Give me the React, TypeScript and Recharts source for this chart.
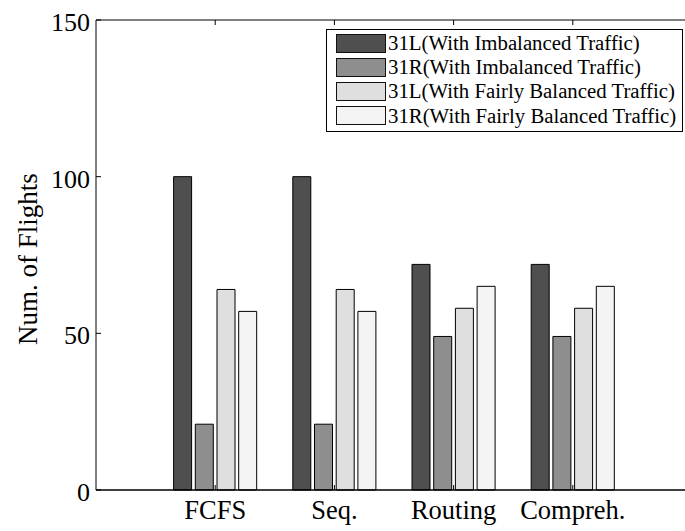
import { Bar, BarChart, Legend, XAxis, YAxis } from 'recharts';

const categories = ['FCFS', 'Seq.', 'Routing', 'Compreh.'];
const imbalanced31L = [100, 100, 72, 72];
const imbalanced31R = [21, 21, 49, 49];
const balanced31L = [64, 64, 58, 58];
const balanced31R = [57, 57, 65, 65];
const yTicks = [0, 50, 100, 150];

const seriesNames = [
  '31L(With Imbalanced Traffic)',
  '31R(With Imbalanced Traffic)',
  '31L(With Fairly Balanced Traffic)',
  '31R(With Fairly Balanced Traffic)',
];
const seriesKeys = ['l_imb', 'r_imb', 'l_bal', 'r_bal'];
const seriesColors = ['#4f4f4f', '#8e8e8e', '#dfdfdf', '#f4f4f4'];

const data = categories.map((name, i) => ({
  name,
  l_imb: imbalanced31L[i],
  r_imb: imbalanced31R[i],
  l_bal: balanced31L[i],
  r_bal: balanced31R[i],
}));

const FONT = '"Liberation Serif", "Times New Roman", serif';
const TICK_LEN = 5;
const xPadding = { left: 59.6, right: 59.6 };

// ticks point into the plot, like the original figure
function BottomTick({ x, y, payload }: any) {
  return (
    <g>
      <line x1={x} x2={x} y1={y} y2={y - TICK_LEN} stroke="#000" />
      <text x={x} y={y + 29} textAnchor="middle" fontSize={26.5} fontFamily={FONT} fill="#000">
        {payload.value}
      </text>
    </g>
  );
}

function TopTick({ x, y }: any) {
  return <line x1={x} x2={x} y1={y} y2={y + TICK_LEN} stroke="#000" />;
}

function LeftTick({ x, y, payload }: any) {
  return (
    <g>
      <line x1={x} x2={x + TICK_LEN} y1={y} y2={y} stroke="#000" />
      <text x={x - 6} y={y + 11} textAnchor="end" fontSize={26} fontFamily={FONT} fill="#000">
        {payload.value}
      </text>
    </g>
  );
}

function YLabel({ viewBox }: any) {
  const cx = viewBox.x + 37;
  const cy = viewBox.y + viewBox.height / 2 + 4;
  return (
    <text
      x={cx}
      y={cy}
      transform={`rotate(-90 ${cx} ${cy})`}
      textAnchor="middle"
      fontSize={27}
      fontFamily={FONT}
      fill="#000"
    >
      Num. of Flights
    </text>
  );
}

function LegendBox() {
  return (
    <div
      style={{
        border: '1px solid #000',
        background: '#fff',
        padding: '1px 0 3px 9px',
        fontFamily: FONT,
        fontSize: 20.8,
        color: '#000',
      }}
    >
      {seriesNames.map((name, i) => (
        <div key={name} style={{ display: 'flex', alignItems: 'center', height: 24.2 }}>
          <span
            style={{
              width: 48,
              height: 17,
              background: seriesColors[i],
              border: '1px solid #111',
              marginRight: 2,
              flex: 'none',
            }}
          />
          <span style={{ whiteSpace: 'nowrap', lineHeight: '24px' }}>{name}</span>
        </div>
      ))}
    </div>
  );
}

// the original figure is cropped on the right, so the chart is a bit wider than the page
export default function App() {
  return (
    <div
      style={{
        position: 'absolute',
        left: 0,
        top: 0,
        width: 685,
        height: 531,
        overflow: 'hidden',
        background: '#fff',
      }}
    >
      <BarChart
        width={700}
        height={531}
        data={data}
        margin={{ top: 0, right: 8, bottom: 0, left: 0 }}
        barGap={3.7}
        barSize={18}
      >
        <XAxis
          dataKey="name"
          height={41}
          padding={xPadding}
          axisLine={{ stroke: '#000', strokeWidth: 1.5 }}
          tickLine={false}
          tickSize={0}
          tickMargin={0}
          tick={<BottomTick />}
          interval={0}
        />
        <XAxis
          xAxisId="top"
          orientation="top"
          dataKey="name"
          height={20}
          padding={xPadding}
          axisLine={{ stroke: '#000' }}
          tickLine={false}
          tickSize={0}
          tickMargin={0}
          tick={<TopTick />}
          interval={0}
        />
        <YAxis
          width={96}
          type="number"
          domain={[0, 150]}
          ticks={yTicks}
          axisLine={{ stroke: '#000' }}
          tickLine={false}
          tickSize={0}
          tickMargin={0}
          tick={<LeftTick />}
          label={(props: any) => <YLabel {...props} />}
        />
        {/* vertical + centered + middle keeps the legend from shrinking the plot */}
        <Legend
          layout="vertical"
          align="center"
          verticalAlign="middle"
          content={() => <LegendBox />}
          wrapperStyle={{ position: 'absolute', top: 29, left: 326, width: 357 }}
        />
        {seriesKeys.map((key, i) => (
          <Bar
            key={key}
            dataKey={key}
            name={seriesNames[i]}
            fill={seriesColors[i]}
            stroke="#000"
            strokeWidth={1}
            isAnimationActive={false}
          />
        ))}
      </BarChart>
    </div>
  );
}
